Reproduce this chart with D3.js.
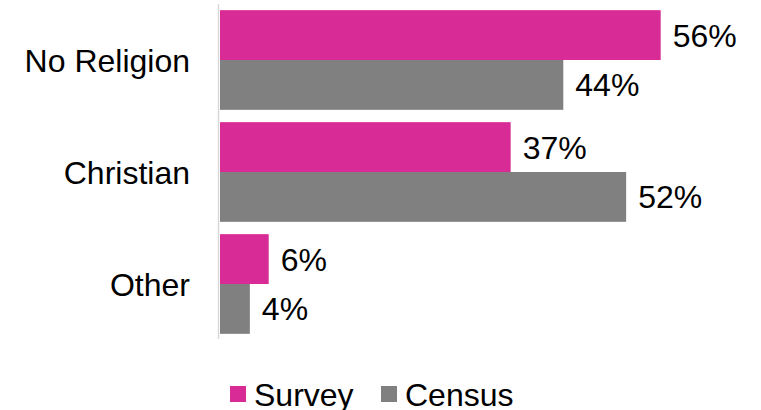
<!DOCTYPE html>
<html><head><meta charset="utf-8">
<script src="https://cdn.jsdelivr.net/npm/d3@7"></script>
<style>body{margin:0;background:#fff}svg{display:block}</style>
</head><body>
<svg id="c" width="761" height="410"></svg>
<script>
const categories = ["No Religion", "Christian", "Other"];
const series = ["Survey", "Census"];
const survey = [56.1, 37.0, 6.2];
const census = [43.7, 51.7, 3.8];
const colors = ["#d92b95", "#808080"];

const svg = d3.select("#c");
const font = "Liberation Sans, Arial, sans-serif";
const fs = 32;
const x0 = 220;
const x = d3.scaleLinear().domain([0, 56.1]).range([x0, 660.7]);
const y = d3.scaleBand().domain(categories).range([4, 340]).paddingInner(0.11).paddingOuter(0.055);
const ySub = d3.scaleBand().domain(series).range([0, y.bandwidth()]);

const data = categories.map((c, i) => ({c, vals: [survey[i], census[i]]}));

svg.append("line").attr("x1", 218.5).attr("x2", 218.5).attr("y1", 4).attr("y2", 339)
  .attr("stroke", "#d9d9d9").attr("stroke-width", 1.5);

const g = svg.selectAll("g.cat").data(data).join("g")
  .attr("transform", d => `translate(0,${y(d.c)})`);

g.selectAll("rect").data(d => d.vals.map((v, j) => ({v, s: series[j], j}))).join("rect")
  .attr("x", x0).attr("y", d => ySub(d.s))
  .attr("width", d => x(d.v) - x0).attr("height", ySub.bandwidth())
  .attr("fill", d => colors[d.j]);

g.selectAll("text.val").data(d => d.vals.map((v, j) => ({v, s: series[j]}))).join("text")
  .attr("class", "val")
  .attr("x", d => x(d.v) + 12).attr("y", d => ySub(d.s) + ySub.bandwidth() / 2)
  .attr("dy", "0.36em").attr("font-family", font).attr("font-size", fs).attr("fill", "#000")
  .text(d => d3.format(".0f")(d.v) + "%");

svg.selectAll("text.cat").data(categories).join("text")
  .attr("class", "cat").attr("x", 190).attr("y", d => y(d) + y.bandwidth() / 2)
  .attr("dy", "0.36em").attr("text-anchor", "end")
  .attr("font-family", font).attr("font-size", fs).attr("fill", "#000").text(d => d);

const legX = [230, 381];
const lg = svg.selectAll("g.leg").data(series).join("g")
  .attr("transform", (d, i) => `translate(${legX[i]},386)`);
lg.append("rect").attr("width", 16).attr("height", 16).attr("fill", (d, i) => colors[i]);
lg.append("text").attr("x", 24).attr("y", 8).attr("dy", "0.36em")
  .attr("font-family", font).attr("font-size", fs).attr("fill", "#000").text(d => d);
</script>
</body></html>
